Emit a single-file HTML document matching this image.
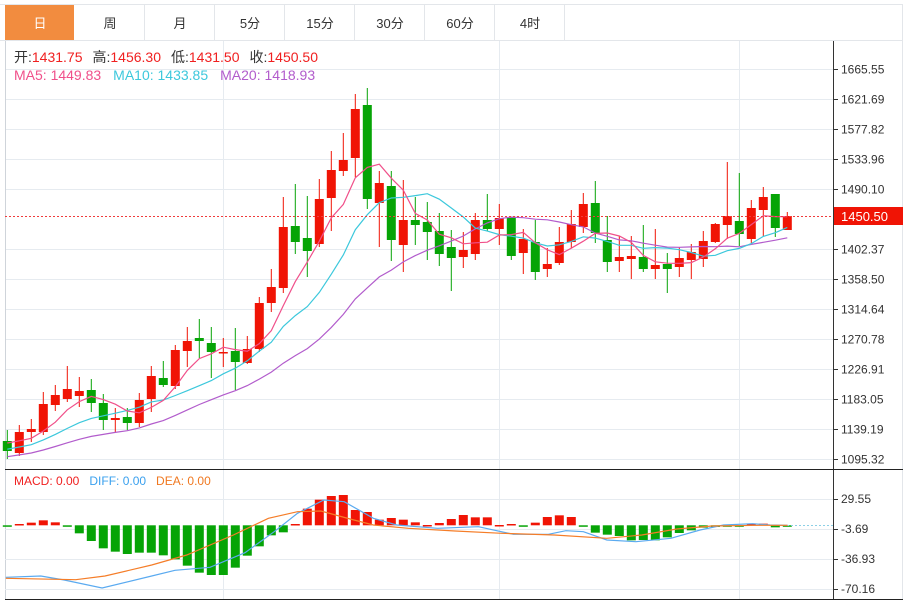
<!DOCTYPE html>
<html><head><meta charset="utf-8"><style>
body{margin:0;background:#fff;width:910px;height:601px;overflow:hidden;font-family:"Liberation Sans","Noto Sans CJK SC",sans-serif}
svg{position:absolute;left:0;top:0}
text{font-family:"Liberation Sans","Noto Sans CJK SC",sans-serif}
</style></head><body>
<svg id="s" width="910" height="601" xmlns="http://www.w3.org/2000/svg"></svg>
<script>
var s=document.getElementById('s'),h='';
function L(x1,y1,x2,y2,c,w,d){h+='<line x1="'+x1+'" y1="'+y1+'" x2="'+x2+'" y2="'+y2+'" stroke="'+c+'" stroke-width="'+(w||1)+'"'+(d?' stroke-dasharray="'+d+'"':'')+'/>';}
function T(x,y,t,c,sz,a){h+='<text x="'+x+'" y="'+y+'" fill="'+c+'" font-size="'+(sz||12)+'"'+(a?' text-anchor="'+a+'"':'')+'>'+t+'</text>';}
// tabs
h+='<rect x="5" y="5" width="69" height="35" fill="#f28c3f"/>';
L(0,4.5,902,4.5,'#e3e6ea');L(0,40.5,902,40.5,'#e3e6ea');L(902.5,4,902.5,600,'#e3e6ea');
var tabs=['日','周','月','5分','15分','30分','60分','4时'];
for(var i=0;i<8;i++){var x=5+70*i;if(i>0)L(x+69.5,5,x+69.5,40,'#e3e6ea');T(x+35,28,tabs[i],i==0?'#fff':'#333',13,'middle');}
// grid
var prices=[1665.55,1621.69,1577.82,1533.96,1490.10,1450.50,1402.37,1358.50,1314.64,1270.78,1226.91,1183.05,1139.19,1095.32];
function py(p){return 459-(p-1095.32)*0.684;}
prices.forEach(function(p){if(p==1450.50)return;var y=Math.round(py(p))+0.5;L(5,y,833,y,'#e6ebf0');L(833,y,838,y,'#333');T(841,y+4,p.toFixed(2),'#333',12);});
[223.5,499.5,739.5].forEach(function(x){L(x,41,x,600,'#e6ebf0');});
L(5.5,41,5.5,600,'#cfd4da');
// macd grid
[[499,'29.55'],[529,'-3.69'],[559,'-36.93'],[589,'-70.16']].forEach(function(a){L(5,a[0]+.5,833,a[0]+.5,'#e6ebf0');L(833,a[0]+.5,838,a[0]+.5,'#333');T(841,a[0]+4,a[1],'#333',12);});
// candles [bodyTop,bodyBot,wickTop,wickBot,up]
var C=[[441,451,430,459,0],[432,453,425,456,1],[429,432,419,442,1],[404,432,392,435,1],[395,405,385,411,1],[389,399,366,402,1],[391,396,377,407,1],[390,403,379,412,0],[403,420,394,430,0],[418,420,408,433,1],[417,423,408,430,0],[400,423,393,427,1],[376,399,366,412,1],[378,385,361,387,0],[350,386,345,389,1],[341,351,327,367,1],[338,341,319,358,0],[343,352,327,378,0],[352,353,338,367,1],[351,362,328,390,0],[349,363,336,364,1],[303,349,297,352,1],[287,303,269,312,1],[227,288,197,293,1],[226,242,184,254,0],[238,251,196,277,0],[199,244,179,247,1],[170,198,151,231,1],[160,171,133,176,1],[109,158,94,177,1],[105,199,88,209,0],[183,203,171,247,1],[186,240,171,261,0],[220,245,180,272,1],[220,225,197,245,0],[222,232,202,260,0],[231,254,213,266,0],[247,258,230,291,0],[250,257,232,268,1],[220,254,213,260,1],[220,229,194,231,0],[218,229,204,245,1],[217,256,217,260,0],[239,253,229,274,1],[242,272,220,280,0],[264,269,248,277,1],[242,263,227,265,1],[224,242,210,248,1],[204,227,193,233,1],[203,233,181,243,0],[240,262,216,272,0],[257,261,236,272,1],[256,259,236,279,1],[257,269,225,272,0],[265,269,229,279,1],[264,269,253,293,0],[258,267,247,277,1],[252,260,244,279,1],[241,259,231,267,1],[224,242,223,243,1],[216,225,162,239,1],[221,234,173,246,0],[208,239,200,243,1],[197,210,187,236,1],[194,228,194,237,0],[216,230,212,230,1]];
var cl=[];
C.forEach(function(c,i){var x=7.3+12*i,col=c[4]?'#f01405':'#06a406';
L(x,c[2],x,c[3],col,1);h+='<rect x="'+(x-4.5)+'" y="'+c[0]+'" width="9" height="'+Math.max(1.5,c[1]-c[0])+'" fill="'+col+'"/>';
cl.push(c[4]?c[0]:c[1]);});
function ma(n,seed){var pts=[];for(var i=0;i<cl.length;i++){var sum=0;for(var k=0;k<n;k++){var j=i-k;sum+=j>=0?cl[j]:seed+(-j)*1.2;}pts.push((7.3+12*i).toFixed(1)+','+(sum/n).toFixed(1));}return pts.join(' ');}
h+='<polyline points="'+ma(20,445)+'" fill="none" stroke="#b25ccc" stroke-width="1.2"/>';
h+='<polyline points="'+ma(10,443)+'" fill="none" stroke="#3cc8dc" stroke-width="1.2"/>';
h+='<polyline points="'+ma(5,438)+'" fill="none" stroke="#f0508a" stroke-width="1.2"/>';
L(5,216.5,833,216.5,'#f03c3c',1,'2,2');
h+='<rect x="834" y="207" width="69" height="18" fill="#f01405"/>';T(841,221,'1450.50','#fff',13);
L(833.5,41,833.5,600,'#333');
L(5,469.5,903,469.5,'#222');L(5,599.5,903,599.5,'#222');
h+='<text x="14" y="62" font-size="14"><tspan fill="#333">开:</tspan><tspan fill="#f02020">1431.75</tspan><tspan fill="#333" dx="10">高:</tspan><tspan fill="#f02020">1456.30</tspan><tspan fill="#333" dx="10">低:</tspan><tspan fill="#f02020">1431.50</tspan><tspan fill="#333" dx="10">收:</tspan><tspan fill="#f02020">1450.50</tspan></text>';
h+='<text x="14" y="80" font-size="14"><tspan fill="#f0508a">MA5: 1449.83</tspan><tspan fill="#3cc8dc" dx="12">MA10: 1433.85</tspan><tspan fill="#b25ccc" dx="12">MA20: 1418.93</tspan></text>';
h+='<text x="14" y="485" font-size="12"><tspan fill="#f02020">MACD: 0.00</tspan><tspan fill="#3aa0ee" dx="10">DIFF: 0.00</tspan><tspan fill="#f07820" dx="10">DEA: 0.00</tspan></text>';
var B=[-185,177,173,166,172,-185,-205,-228,-250,-260,-267,-263,-263,-271,-283,-302,-323,-330,-330,-308,-272,-244,-211,-202,177,131,104,93,90,135,141,164,159,164,172,180,174,162,150,157,157,180,177,-185,173,156,151,156,-185,-203,-209,-213,-226,-225,-226,-217,-204,-196,-188,-186,-185,-184,176,176,-187,-182];
var base=525.3;
B.forEach(function(b,i){var x=7.3+12*i,v=Math.abs(b),y=465+v/3,col=b>0?'#f01405':'#06a406';var t=Math.min(y,base),hh=Math.max(1.5,Math.abs(y-base));h+='<rect x="'+(x-4.5)+'" y="'+t+'" width="9" height="'+hh+'" fill="'+col+'"/>';});
L(787,525.5,833,525.5,'#8cd0e6',1,'2,2');
function P(a){var r=[];for(var i=0;i<a.length;i+=2)r.push((a[i]/1.714).toFixed(1)+','+(465+a[i+1]/3).toFixed(1));return r.join(' ');}
h+='<polyline fill="none" stroke="#5aaaf0" stroke-width="1.2" points="'+P([10,337,70,333,110,345,175,369,260,333,300,316,360,307,420,263,470,200,510,145,555,105,590,110,640,160,680,180,750,190,820,185,880,208,940,208,970,197,1000,200,1040,225,1090,230,1150,220,1200,195,1240,180,1290,176,1320,180,1350,181])+'"/>';
h+='<polyline fill="none" stroke="#f57d28" stroke-width="1.2" points="'+P([10,340,130,344,180,333,260,300,320,270,400,210,460,160,510,140,550,138,600,162,640,180,700,190,780,198,860,205,950,210,1040,220,1100,210,1160,192,1220,183,1300,181,1350,181])+'"/>';
s.innerHTML=h;
</script>
</body></html>
